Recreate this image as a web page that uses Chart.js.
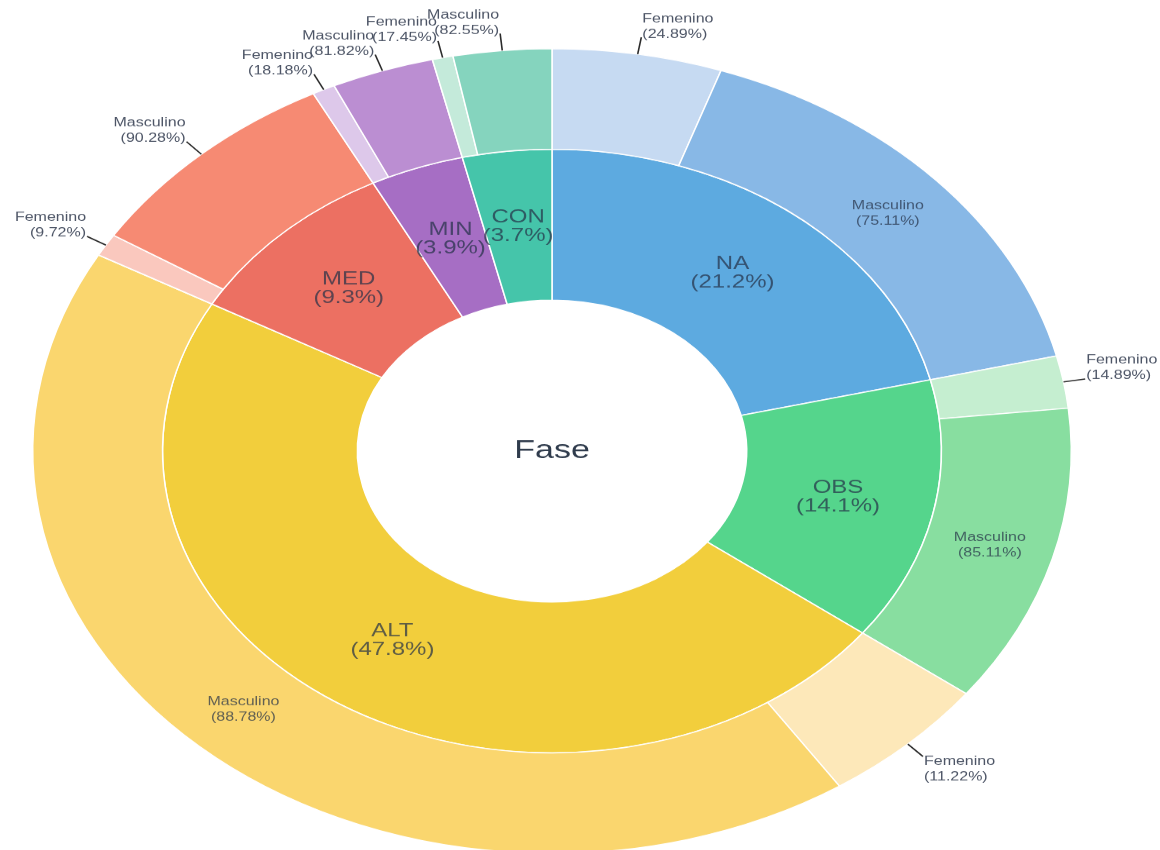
<!DOCTYPE html>
<html>
<head>
<meta charset="utf-8">
<script src="https://cdn.jsdelivr.net/npm/chart.js@4"></script>
<style>
  html, body { margin: 0; padding: 0; background: #fff; overflow: hidden; }
  /* the reference is squashed vertically, so the round chart is drawn and then scaled */
  #wrap {
    position: absolute; left: 0; top: 0;
    width: 1160px; height: 1110px;
    transform: scaleY(0.775); transform-origin: 0 0;
  }
</style>
</head>
<body>
<div id="wrap"><canvas id="sunburst"></canvas></div>
<script>
// ---- data ----
const phases = ["NA", "OBS", "ALT", "MED", "MIN", "CON"];
const phaseShare = [21.2, 14.1, 47.8, 9.3, 3.9, 3.7];
const sexes = ["Femenino", "Masculino"];
const femShare = [24.89, 14.89, 11.22, 9.72, 18.18, 17.45];
const mascShare = [75.11, 85.11, 88.78, 90.28, 81.82, 82.55];
const centerTitle = "Fase";

// ---- colours ----
const phaseColors = ["#5DAAE0", "#55D58C", "#F2CE3C", "#EC7062", "#A66EC4", "#45C5AA"];
const mascColors = ["#88B8E6", "#88DEA0", "#FAD66E", "#F68A73", "#BB8ED2", "#85D4BE"];
const femColors = ["#C6DAF2", "#C5EED0", "#FDE8B9", "#FAC8BE", "#DDC8EA", "#C4EADA"];

// outer ring: each phase split into Femenino then Masculino
const outerValues = [];
const outerLabels = [];
const outerPcts = [];
const outerColors = [];
phases.forEach((p, i) => {
  outerValues.push((phaseShare[i] * femShare[i]) / 100, (phaseShare[i] * mascShare[i]) / 100);
  outerLabels.push(sexes[0], sexes[1]);
  outerPcts.push(femShare[i], mascShare[i]);
  outerColors.push(femColors[i], mascColors[i]);
});

const FONT = '"Liberation Sans", Arial, sans-serif';
const INSIDE_MIN = 10; // outer slices smaller than this get an outside label

const sunLabels = {
  id: "sunLabels",
  afterDatasetsDraw(chart) {
    const ctx = chart.ctx;
    ctx.save();
    ctx.textBaseline = "middle";

    const innerMeta = chart.getDatasetMeta(1);
    const c = innerMeta.data[0];
    ctx.textAlign = "center";
    ctx.fillStyle = "#2f3b4c";
    ctx.font = "34px " + FONT;
    ctx.fillText(centerTitle, c.x, c.y);

    // inner ring labels
    ctx.font = "24px " + FONT;
    ctx.fillStyle = "rgba(38, 50, 72, 0.72)";
    innerMeta.data.forEach((arc, i) => {
      const p = arc.getProps(["x", "y", "startAngle", "endAngle", "innerRadius", "outerRadius"], true);
      const a = (p.startAngle + p.endAngle) / 2;
      const r = (p.innerRadius + p.outerRadius) / 2;
      const x = p.x + r * Math.cos(a);
      const y = p.y + r * Math.sin(a);
      ctx.fillText(phases[i], x, y - 12);
      ctx.fillText("(" + phaseShare[i] + "%)", x, y + 12);
    });

    // outer ring labels
    ctx.font = "16px " + FONT;
    const outerMeta = chart.getDatasetMeta(0);
    outerMeta.data.forEach((arc, i) => {
      const p = arc.getProps(["x", "y", "startAngle", "endAngle", "innerRadius", "outerRadius"], true);
      const a = (p.startAngle + p.endAngle) / 2;
      const line1 = outerLabels[i];
      const line2 = "(" + outerPcts[i].toFixed(2) + "%)";
      if (outerValues[i] > INSIDE_MIN) {
        const r = (p.innerRadius + p.outerRadius) / 2;
        const x = p.x + r * Math.cos(a);
        const y = p.y + r * Math.sin(a);
        ctx.textAlign = "center";
        ctx.fillStyle = "rgba(38, 50, 72, 0.72)";
        ctx.fillText(line1, x, y - 10);
        ctx.fillText(line2, x, y + 10);
        return;
      }
      const x0 = p.x + p.outerRadius * Math.cos(a);
      const y0 = p.y + p.outerRadius * Math.sin(a);
      const x1 = p.x + (p.outerRadius + 22) * Math.cos(a);
      const y1 = p.y + (p.outerRadius + 22) * Math.sin(a);
      ctx.strokeStyle = "#2b2b2b";
      ctx.lineWidth = 1.6;
      ctx.beginPath();
      ctx.moveTo(x0, y0);
      ctx.lineTo(x1, y1);
      ctx.stroke();
      const right = Math.cos(a) >= 0;
      ctx.textAlign = right ? "left" : "right";
      const tx = right ? x1 + 1 : x1 - 1;
      const ty = Math.sin(a) < 0 ? y1 - 24 : y1 + 6;
      ctx.fillStyle = "#4d5566";
      ctx.fillText(line1, tx, ty);
      ctx.fillText(line2, tx, ty + 20);
    });
    ctx.restore();
  },
};

new Chart(document.getElementById("sunburst"), {
  type: "doughnut",
  data: {
    labels: outerLabels,
    datasets: [
      {
        label: "Sexo",
        data: outerValues,
        backgroundColor: outerColors,
        borderColor: "#ffffff",
        borderWidth: 1.5,
        weight: 2,
      },
      {
        label: "Fase",
        data: phaseShare,
        backgroundColor: phaseColors,
        borderColor: "#ffffff",
        borderWidth: 1.5,
        weight: 3,
      },
    ],
  },
  options: {
    responsive: true,
    maintainAspectRatio: false,
    animation: false,
    cutout: "37.5%",
    layout: { padding: { left: 32, right: 88, top: 62, bottom: 8 } },
    plugins: {
      legend: { display: false },
      tooltip: { enabled: false },
    },
  },
  plugins: [sunLabels],
});
</script>
</body>
</html>
